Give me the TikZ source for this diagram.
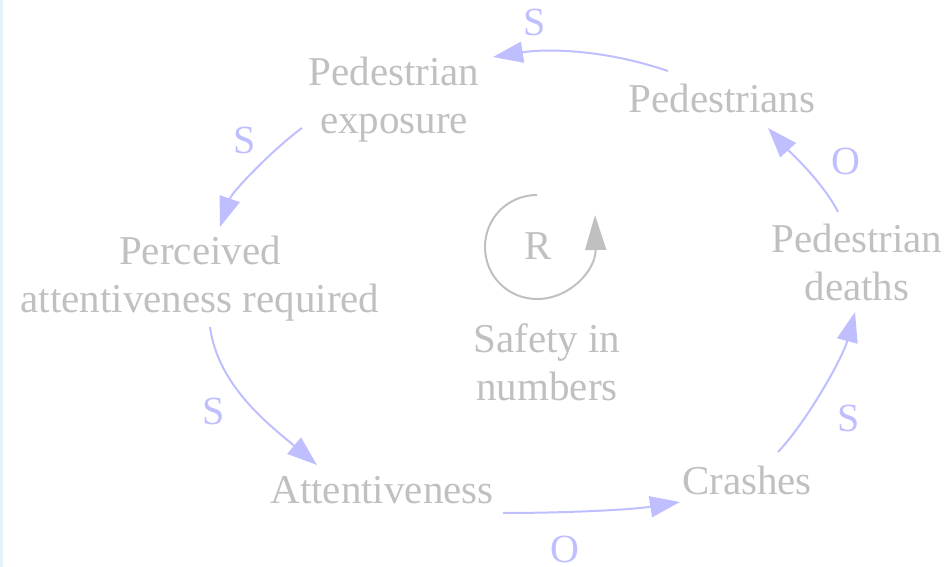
\documentclass[tikz,border=0pt]{standalone}
\usepackage{fontspec}
\setmainfont{Liberation Serif}
\usetikzlibrary{arrows.meta}
\definecolor{txtgray}{RGB}{192,192,192}
\definecolor{linkblue}{RGB}{191,191,255}
\definecolor{edgeblue}{RGB}{230,242,250}
\tikzset{
  var/.style={font=\fontsize{41}{48}\selectfont, text=txtgray, inner sep=0pt, align=center},
  pol/.style={font=\fontsize{40}{48}\selectfont, text=linkblue, inner sep=0pt},
  link/.style={draw=linkblue, line width=2pt, -{Triangle[length=30pt,width=21pt]}},
  loopline/.style={draw=txtgray, line width=2pt, -{Triangle[length=35pt,width=21pt]}}
}
\begin{document}
\begin{tikzpicture}[x=1pt,y=-1pt]
\useasboundingbox (0,0) rectangle (945,567);
\fill[edgeblue] (0,0) rectangle (3,567);

\node[var] (peds)  at (722,98)  {Pedestrians};
\node[var] (pexp)  at (394,100) {Pedestrian\\exposure};
\node[var] (perc)  at (200,279) {Perceived\\attentiveness required};
\node[var] (att)   at (382,490) {Attentiveness};
\node[var] (cr)    at (747,480) {Crashes};
\node[var] (pd)    at (857,262) {Pedestrian\\deaths};
\node[var] (safe)  at (547,362) {Safety in\\numbers};
\node[var] (R)     at (538,246) {R};

\node[pol] (s1) at (535,22)  {S};
\node[pol] (s2) at (245,140) {S};
\node[pol] (s3) at (214,411) {S};
\node[pol] (o4) at (565,549) {O};
\node[pol] (s5) at (849,418) {S};
\node[pol] (o6) at (846,161) {O};

\draw[link] ([shift={(-54,-27)}]peds.center) .. controls +(-68,-23) and +(50,-8) .. ([shift={(99,-43)}]pexp.center);
\draw[link] ([shift={(-92,28)}]pexp.center) .. controls +(-30,22) and +(12,-35) .. ([shift={(20,-52)}]perc.center);
\draw[link] ([shift={(10,48)}]perc.center) .. controls +(8,60) and +(-45,-38) .. ([shift={(-65,-25)}]att.center);
\draw[link] ([shift={(121,23)}]att.center) .. controls +(60,0) and +(-50,8) .. ([shift={(-67,22)}]cr.center);
\draw[link] ([shift={(31,-28)}]cr.center) .. controls +(30,-32) and +(-12,45) .. ([shift={(-2,50)}]pd.center);
\draw[link] ([shift={(-19,-50)}]pd.center) .. controls +(-15,-30) and +(20,22) .. ([shift={(46,30)}]peds.center);

\draw[loopline] ([shift={(-1,-51)}]R.center)
  .. controls +(-29,0) and +(0,-29) .. ([shift={(-53,1)}]R.center)
  .. controls +(0,29) and +(-29,0) .. ([shift={(-1,53)}]R.center)
  .. controls +(33,0) and +(1,55) .. ([shift={(57,-31)}]R.center);
\end{tikzpicture}
\end{document}
